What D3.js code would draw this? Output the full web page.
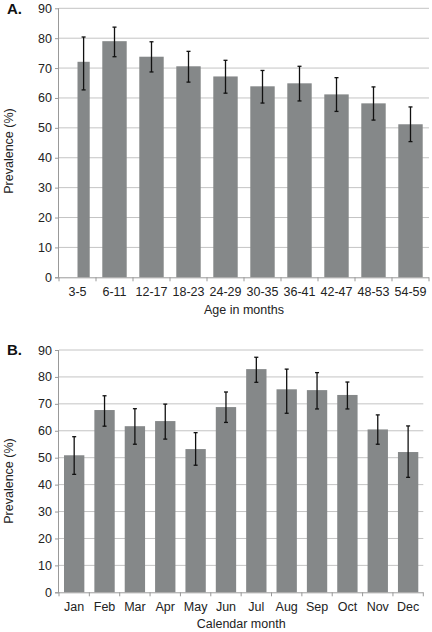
<!DOCTYPE html>
<html>
<head>
<meta charset="utf-8">
<script src="https://cdn.jsdelivr.net/npm/d3@7"></script>
<style>
  html, body { margin: 0; padding: 0; background: #fff; }
  svg { display: block; font-family: "Liberation Sans", Arial, sans-serif; }
</style>
</head>
<body>
<svg id="chart" width="432" height="632"></svg>
<script>
// ---- Data ----
const ageGroups = ["3-5","6-11","12-17","18-23","24-29","30-35","36-41","42-47","48-53","54-59"];
const ageValues = [72.1, 79.0, 73.8, 70.6, 67.2, 63.9, 64.9, 61.2, 58.2, 51.2];
const ageLower  = [62.7, 73.8, 68.7, 65.3, 61.6, 58.3, 59.0, 55.5, 52.6, 45.4];
const ageUpper  = [80.4, 83.7, 78.8, 75.6, 72.6, 69.2, 70.6, 66.8, 63.7, 57.0];

const months = ["Jan","Feb","Mar","Apr","May","Jun","Jul","Aug","Sep","Oct","Nov","Dec"];
const monthValues = [50.9, 67.7, 61.7, 63.6, 53.2, 68.8, 82.9, 75.4, 75.1, 73.3, 60.5, 52.1];
const monthLower  = [43.8, 61.7, 55.0, 56.9, 47.2, 63.1, 78.0, 66.5, 68.1, 68.1, 55.0, 42.7];
const monthUpper  = [57.8, 73.0, 68.2, 69.9, 59.3, 74.4, 87.3, 82.9, 81.6, 78.1, 65.9, 61.8];

const yTicks = [0,10,20,30,40,50,60,70,80,90];

const svg = d3.select("#chart");

function panel(opts) {
  const {cats, vals, lo, hi, x0, x1, yTop, yBot, padInner, label, labelY, xTitle, xTitleY, yTitleY, clipFirst} = opts;
  const g = svg.append("g");
  const x = d3.scaleBand().domain(cats).range([x0, x1]).paddingInner(padInner).paddingOuter(padInner / 2);
  const y = d3.scaleLinear().domain([0, 90]).range([yBot, yTop]);

  // gridlines
  g.append("g").selectAll("line").data(yTicks.filter(t => t > 0)).join("line")
    .attr("x1", x0).attr("x2", x1)
    .attr("y1", d => y(d)).attr("y2", d => y(d))
    .attr("stroke", "#c4c4c4").attr("stroke-width", 1);

  // bars
  g.append("g").selectAll("rect").data(cats).join("rect")
    .attr("x", (d, i) => (clipFirst && i === 0) ? x(d) + x.bandwidth() / 2 : x(d))
    .attr("width", (d, i) => (clipFirst && i === 0) ? x.bandwidth() / 2 : x.bandwidth())
    .attr("y", (d, i) => y(vals[i]))
    .attr("height", (d, i) => y(0) - y(vals[i]))
    .attr("fill", "#858889");

  // error bars
  const cx = (d, i) => (clipFirst && i === 0) ? x(d) + x.bandwidth() * 0.75 : x(d) + x.bandwidth() / 2;
  const eg = g.append("g").attr("stroke", "#111").attr("stroke-width", 1.3);
  eg.selectAll("line.v").data(cats).join("line").attr("class", "v")
    .attr("x1", cx).attr("x2", cx)
    .attr("y1", (d, i) => y(lo[i])).attr("y2", (d, i) => y(hi[i]));
  eg.selectAll("line.t").data(cats).join("line").attr("class", "t")
    .attr("x1", (d, i) => cx(d, i) - 2).attr("x2", (d, i) => cx(d, i) + 2)
    .attr("y1", (d, i) => y(hi[i])).attr("y2", (d, i) => y(hi[i]));
  eg.selectAll("line.b").data(cats).join("line").attr("class", "b")
    .attr("x1", (d, i) => cx(d, i) - 2).attr("x2", (d, i) => cx(d, i) + 2)
    .attr("y1", (d, i) => y(lo[i])).attr("y2", (d, i) => y(lo[i]));

  // y axis
  const ya = g.append("g").attr("transform", `translate(${x0},0)`)
    .call(d3.axisLeft(y).tickValues(yTicks).tickSize(4).tickPadding(3));
  ya.select(".domain").attr("stroke", "#999").attr("d", `M-0.5,${yBot}V${yTop}`);
  ya.selectAll(".tick line").attr("stroke", "#999");
  ya.selectAll("text").attr("font-size", 12.5).attr("fill", "#222");

  // x axis
  const xa = g.append("g").attr("transform", `translate(0,${yBot})`);
  xa.append("line").attr("x1", x0 - 4).attr("x2", x1).attr("y1", 0.5).attr("y2", 0.5).attr("stroke", "#999");
  const bounds = d3.range(cats.length + 1).map(i => x0 + i * (x1 - x0) / cats.length);
  xa.selectAll("line.tk").data(bounds).join("line").attr("class", "tk")
    .attr("x1", d => d).attr("x2", d => d).attr("y1", 0).attr("y2", 4).attr("stroke", "#999");
  xa.selectAll("text").data(cats).join("text")
    .attr("x", d => x(d) + x.bandwidth() / 2)
    .attr("y", 18.5)
    .attr("text-anchor", "middle")
    .attr("font-size", 12.5).attr("fill", "#222")
    .text(d => d);

  // titles
  g.append("text").attr("x", (x0 + x1) / 2).attr("y", xTitleY)
    .attr("text-anchor", "middle").attr("font-size", 12.5).attr("fill", "#222").text(xTitle);
  g.append("text").attr("transform", `translate(13,${yTitleY}) rotate(-90)`)
    .attr("text-anchor", "middle").attr("font-size", 12.5).attr("fill", "#222").text("Prevalence (%)");
  g.append("text").attr("x", 7).attr("y", labelY)
    .attr("font-size", 15).attr("font-weight", "bold").attr("fill", "#111").text(label);
}

panel({
  cats: ageGroups, vals: ageValues, lo: ageLower, hi: ageUpper,
  x0: 59, x1: 429, yTop: 8.3, yBot: 277.3, padInner: 0.34,
  label: "A.", labelY: 14, xTitle: "Age in months", xTitleY: 313.5, yTitleY: 151, clipFirst: true
});

panel({
  cats: months, vals: monthValues, lo: monthLower, hi: monthUpper,
  x0: 59, x1: 423.3, yTop: 350, yBot: 592.3, padInner: 0.33,
  label: "B.", labelY: 355, xTitle: "Calendar month", xTitleY: 628, yTitleY: 481, clipFirst: false
});
</script>
</body>
</html>
